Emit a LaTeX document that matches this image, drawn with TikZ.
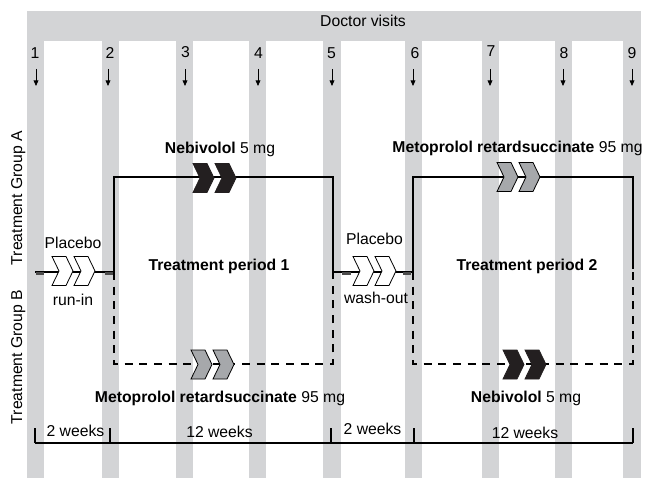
\documentclass[tikz,border=0pt]{standalone}
\usepackage{fontspec}
\setmainfont{Liberation Sans}
\usetikzlibrary{arrows.meta}
\definecolor{stripe}{RGB}{211,212,214}
\definecolor{chevgray}{RGB}{166,168,171}
\definecolor{chevblack}{RGB}{35,31,32}
\begin{document}
\begin{tikzpicture}[x=0.75pt,y=-0.75pt,
  font=\fontsize{11.8}{14}\selectfont,
  lbl/.style={anchor=base, inner sep=0pt, outer sep=0pt},
  visitarr/.style={line width=0.6pt, -{Triangle[width=3.6pt,length=4.2pt]}},
  solidln/.style={line width=0.8pt},
  dashln/.style={line width=0.8pt, dash pattern=on 6pt off 5pt},
  timeln/.style={line width=0.8pt},
  chev/.pic={\path[pic actions] (0,-14.5) -- (14,-14.5) -- (21,0) -- (14,14.5) -- (0,14.5) -- (7,0) -- cycle;},
  chevwhite/.style={draw=black, fill=white, line width=0.6pt, line join=miter},
  chevgrey/.style={draw=black, fill=chevgray, line width=0.6pt, line join=miter},
  chevdark/.style={draw=chevblack, fill=chevblack, line width=0.6pt, line join=miter},
  tickmark/.style={line width=1.6pt, black!70}
]
\useasboundingbox (0,0) rectangle (647,478);
% background band and visit stripes
\fill[stripe] (27,11) rectangle (641,41);
\foreach \a/\b in {27/44,102/119,176/193,249/266,323/341,405/422,482/499,555/572,623/641}
  \fill[stripe] (\a,41) rectangle (\b,478);

\node[lbl] (title) at (363,27) {Doctor visits};

% visit numbers
\node[lbl] (v1) at (35,59) {1};
\node[lbl] (v2) at (110,59) {2};
\node[lbl] (v3) at (185.5,58) {3};
\node[lbl] (v4) at (258.5,59) {4};
\node[lbl] (v5) at (331.5,59) {5};
\node[lbl] (v6) at (415,59) {6};
\node[lbl] (v7) at (491,57) {7};
\node[lbl] (v8) at (564,59) {8};
\node[lbl] (v9) at (632,59) {9};

% visit arrows
\foreach \i/\x in {1/36,2/108,3/185,4/258,5/332,6/413,7/490,8/563,9/632}{
  \coordinate (t\i) at (\x,69);
  \coordinate (h\i) at (\x,86);
  \draw[visitarr] (t\i) -- (h\i);
}

% group labels
\node[lbl, rotate=90] (ga) at (22,198) {Treatment Group A};
\node[lbl, rotate=90] (gb) at (22,357) {Treatment Group B};

% path coordinates
\coordinate (s0) at (35,272);
\coordinate (c1) at (114,272);
\coordinate (c2) at (114,177);
\coordinate (c3) at (333,177);
\coordinate (c4) at (333,272);
\coordinate (c5) at (413,272);
\coordinate (c6) at (413,177);
\coordinate (c7) at (633,177);
\coordinate (c8) at (633,269);
\coordinate (b1) at (114,364);
\coordinate (b2) at (333,364);
\coordinate (b3) at (413,364);
\coordinate (b4) at (633,364);

% group B (dashed)
\draw[dashln] (c1) -- (b1) -- (b2) -- (c4);
\draw[dashln] (c5) -- (b3) -- (b4) -- (c8);
% group A (solid)
\draw[solidln] (s0) -- (c1) -- (c2) -- (c3) -- (c4) -- (c5) -- (c6) -- (c7) -- (c8);

% small marks on placebo lines
\draw[tickmark] (36,273.5) -- (44,273.5);
\draw[tickmark] (105,273.5) -- (113,273.5);
\draw[tickmark] (342,273.5) -- (351,273.5);
\draw[tickmark] (403,273.5) -- (411,273.5);

% chevrons
\pic[chevwhite] at (52,271) {chev};
\pic[chevwhite] at (74,271) {chev};
\pic[chevwhite] at (353,271) {chev};
\pic[chevwhite] at (375,271) {chev};
\pic[chevdark] at (193,178) {chev};
\pic[chevdark] at (215,178) {chev};
\pic[chevgrey] at (497,177) {chev};
\pic[chevgrey] at (519,177) {chev};
\pic[chevgrey] at (191,364.5) {chev};
\pic[chevgrey] at (213,364.5) {chev};
\pic[chevdark] at (503,364.5) {chev};
\pic[chevdark] at (525,364.5) {chev};

% drug labels
\node[lbl] (nebA) at (220,153) {\textbf{Nebivolol} 5 mg};
\node[lbl] (metA) at (517.5,152) {\textbf{Metoprolol retardsuccinate} 95 mg};
\node[lbl] (metB) at (220,402) {\textbf{Metoprolol retardsuccinate} 95 mg};
\node[lbl] (nebB) at (526,402) {\textbf{Nebivolol} 5 mg};

\node[lbl] (tp1) at (219,270) {\textbf{Treatment period 1}};
\node[lbl] (tp2) at (527,270) {\textbf{Treatment period 2}};

\node[lbl] (pl1) at (73,248) {Placebo};
\node[lbl] (run) at (73,305) {run-in};
\node[lbl] (pl2) at (374.5,244) {Placebo};
\node[lbl] (wash) at (376,303) {wash-out};

% time line
\coordinate (w0) at (35,443);
\coordinate (w1) at (110,443);
\coordinate (w2) at (331,443);
\coordinate (w3) at (414,443);
\coordinate (w4) at (633,443);
\draw[timeln] (w0) -- (w4);
\foreach \i in {0,...,4} \draw[timeln] (w\i) -- ++(0,-15);

\node[lbl] (d1) at (75.5,436) {2 weeks};
\node[lbl] (d2) at (219.5,437) {12 weeks};
\node[lbl] (d3) at (372.5,434) {2 weeks};
\node[lbl] (d4) at (525,438) {12 weeks};
\end{tikzpicture}
\end{document}
